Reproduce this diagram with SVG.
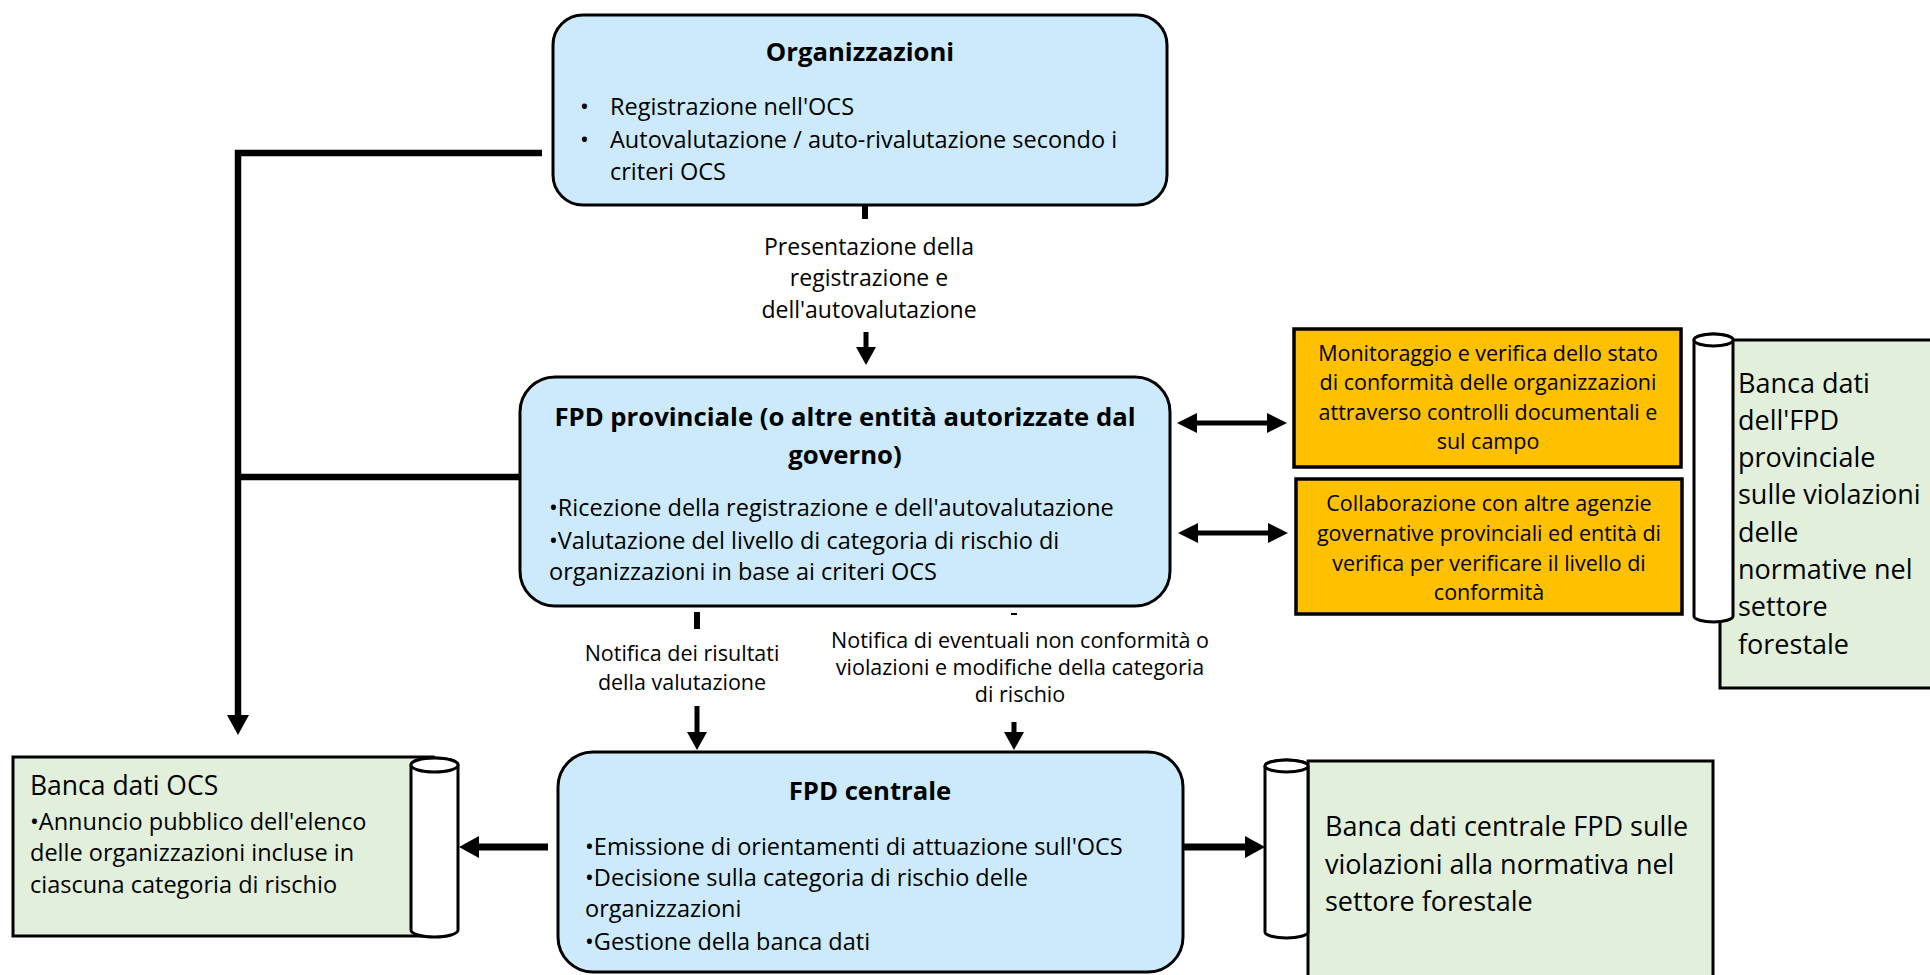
<svg xmlns="http://www.w3.org/2000/svg" width="1930" height="975" viewBox="0 0 1930 975">
<defs>
<style>
text{font-family:"Open Sans","Noto Sans","Liberation Sans",sans-serif;fill:#000}
.box{fill:#CCEAFC;stroke:#000;stroke-width:3}
.org{fill:#FFC000;stroke:#000;stroke-width:3.5}
.db{fill:#E2EFDA;stroke:#000;stroke-width:3}
.cyl{fill:#fff;stroke:#000;stroke-width:3}
.t{font-size:25.7px;font-weight:bold;text-anchor:middle}
.b{font-size:23.5px}
.lbl{font-size:21.5px;text-anchor:middle}
.lbl2{font-size:23px;text-anchor:middle}
.ot{font-size:21.5px;text-anchor:middle}
.dbt{font-size:27px}
.ln{stroke:#000;fill:none}
</style>
<marker id="hv" markerUnits="userSpaceOnUse" markerWidth="18" markerHeight="20" refX="0" refY="10" orient="auto" viewBox="0 0 18 20"><path d="M0,0 L18,10 L0,20 Z"/></marker>
<marker id="hl" markerUnits="userSpaceOnUse" markerWidth="20" markerHeight="22" refX="0" refY="11" orient="auto" viewBox="0 0 20 22"><path d="M0,0 L20,11 L0,22 Z"/></marker>
<marker id="hd" markerUnits="userSpaceOnUse" markerWidth="20" markerHeight="20" refX="0" refY="10" orient="auto-start-reverse" viewBox="0 0 20 20"><path d="M0,0 L20,10 L0,20 Z"/></marker>
</defs>
<rect width="1930" height="975" fill="#fff"/>

<g id="connectors">
  <polyline class="ln" stroke-width="6.5" points="542,153 238,153 238,715" marker-end="url(#hl)"/>
  <line class="ln" stroke-width="6.5" x1="547" y1="477" x2="238" y2="477"/>
  <line class="ln" stroke-width="6" x1="865" y1="206" x2="865" y2="219"/>
  <line class="ln" stroke-width="5" x1="866" y1="332" x2="866" y2="347" marker-end="url(#hv)"/>
  <line class="ln" stroke-width="5" x1="1197" y1="423" x2="1267" y2="423" marker-start="url(#hd)" marker-end="url(#hd)"/>
  <line class="ln" stroke-width="5" x1="1198" y1="533" x2="1268" y2="533" marker-start="url(#hd)" marker-end="url(#hd)"/>
  <line class="ln" stroke-width="6" x1="697" y1="612" x2="697" y2="629"/>
  <line class="ln" stroke-width="5" x1="697" y1="706" x2="697" y2="732" marker-end="url(#hv)"/>
  <line class="ln" stroke-width="2" x1="1011" y1="614" x2="1017" y2="614"/>
  <line class="ln" stroke-width="5" x1="1014" y1="722" x2="1014" y2="732" marker-end="url(#hv)"/>
  <line class="ln" stroke-width="7" x1="548" y1="847" x2="479" y2="847" marker-end="url(#hl)"/>
  <line class="ln" stroke-width="7" x1="1178" y1="847" x2="1245" y2="847" marker-end="url(#hl)"/>
  <text class="lbl2" x="869" y="255">Presentazione della</text>
  <text class="lbl2" x="869" y="286">registrazione e</text>
  <text class="lbl2" x="869" y="318">dell'autovalutazione</text>
  <text class="lbl" x="682" y="661">Notifica dei risultati</text>
  <text class="lbl" x="682" y="690">della valutazione</text>
  <text class="lbl" x="1020" y="648">Notifica di eventuali non conformità o</text>
  <text class="lbl" x="1020" y="675">violazioni e modifiche della categoria</text>
  <text class="lbl" x="1020" y="702">di rischio</text>
</g>

<g id="organizzazioni">
  <rect class="box" x="553" y="15" width="614" height="190" rx="30"/>
  <text class="t" x="860" y="61">Organizzazioni</text>
  <text class="b" x="580" y="115">•</text>
  <text class="b" x="610" y="115">Registrazione nell'OCS</text>
  <text class="b" x="580" y="148">•</text>
  <text class="b" x="610" y="148">Autovalutazione / auto-rivalutazione secondo i</text>
  <text class="b" x="610" y="180">criteri OCS</text>
</g>

<g id="fpd-provinciale">
  <rect class="box" x="520" y="377" width="650" height="229" rx="35"/>
  <text class="t" x="845" y="426">FPD provinciale (o altre entità autorizzate dal</text>
  <text class="t" x="845" y="464">governo)</text>
  <text class="b" x="549" y="516">•Ricezione della registrazione e dell'autovalutazione</text>
  <text class="b" x="549" y="549">•Valutazione del livello di categoria di rischio di</text>
  <text class="b" x="549" y="580">organizzazioni in base ai criteri OCS</text>
</g>

<g id="monitoraggio">
  <rect class="org" x="1294" y="329" width="387" height="138"/>
  <text class="ot" x="1488" y="361">Monitoraggio e verifica dello stato</text>
  <text class="ot" x="1488" y="390">di conformità delle organizzazioni</text>
  <text class="ot" x="1488" y="420">attraverso controlli documentali e</text>
  <text class="ot" x="1488" y="449">sul campo</text>
</g>

<g id="collaborazione">
  <rect class="org" x="1296" y="479" width="386" height="135"/>
  <text class="ot" x="1489" y="511">Collaborazione con altre agenzie</text>
  <text class="ot" x="1489" y="541">governative provinciali ed entità di</text>
  <text class="ot" x="1489" y="571">verifica per verificare il livello di</text>
  <text class="ot" x="1489" y="600">conformità</text>
</g>

<g id="banca-dati-provinciale">
  <rect class="db" x="1720" y="340" width="230" height="348"/>
  <path class="cyl" d="M1694,340 A19.5,6 0 0 1 1733,340 L1733,616 A19.5,6 0 0 1 1694,616 Z"/>
  <ellipse class="cyl" cx="1713.5" cy="340" rx="19.5" ry="6"/>
  <text class="dbt" x="1738" y="393">Banca dati</text>
  <text class="dbt" x="1738" y="430">dell'FPD</text>
  <text class="dbt" x="1738" y="467">provinciale</text>
  <text class="dbt" x="1738" y="504">sulle violazioni</text>
  <text class="dbt" x="1738" y="542">delle</text>
  <text class="dbt" x="1738" y="579">normative nel</text>
  <text class="dbt" x="1738" y="616">settore</text>
  <text class="dbt" x="1738" y="654">forestale</text>
</g>

<g id="fpd-centrale">
  <rect class="box" x="558" y="752" width="625" height="220" rx="35"/>
  <text class="t" x="870" y="800">FPD centrale</text>
  <text class="b" x="585" y="855">•Emissione di orientamenti di attuazione sull'OCS</text>
  <text class="b" x="585" y="886">•Decisione sulla categoria di rischio delle</text>
  <text class="b" x="585" y="917">organizzazioni</text>
  <text class="b" x="585" y="950">•Gestione della banca dati</text>
</g>

<g id="banca-dati-ocs">
  <rect class="db" x="13" y="757" width="420" height="179"/>
  <path class="cyl" d="M411,765 A23.5,7 0 0 1 458,765 L458,930 A23.5,7 0 0 1 411,930 Z"/>
  <ellipse class="cyl" cx="434.5" cy="765" rx="23.5" ry="7"/>
  <text x="30" y="795" style="font-size:26.5px">Banca dati OCS</text>
  <text class="b" x="30" y="830">•Annuncio pubblico dell'elenco</text>
  <text class="b" x="30" y="861">delle organizzazioni incluse in</text>
  <text class="b" x="30" y="893">ciascuna categoria di rischio</text>
</g>

<g id="banca-dati-centrale">
  <rect class="db" x="1308" y="761" width="405" height="240"/>
  <path class="cyl" d="M1265,766 A21.5,6 0 0 1 1308,766 L1308,932 A21.5,6 0 0 1 1265,932 Z"/>
  <ellipse class="cyl" cx="1286.5" cy="766" rx="21.5" ry="6"/>
  <text class="dbt" x="1325" y="836">Banca dati centrale FPD sulle</text>
  <text class="dbt" x="1325" y="874">violazioni alla normativa nel</text>
  <text class="dbt" x="1325" y="911">settore forestale</text>
</g>
</svg>
